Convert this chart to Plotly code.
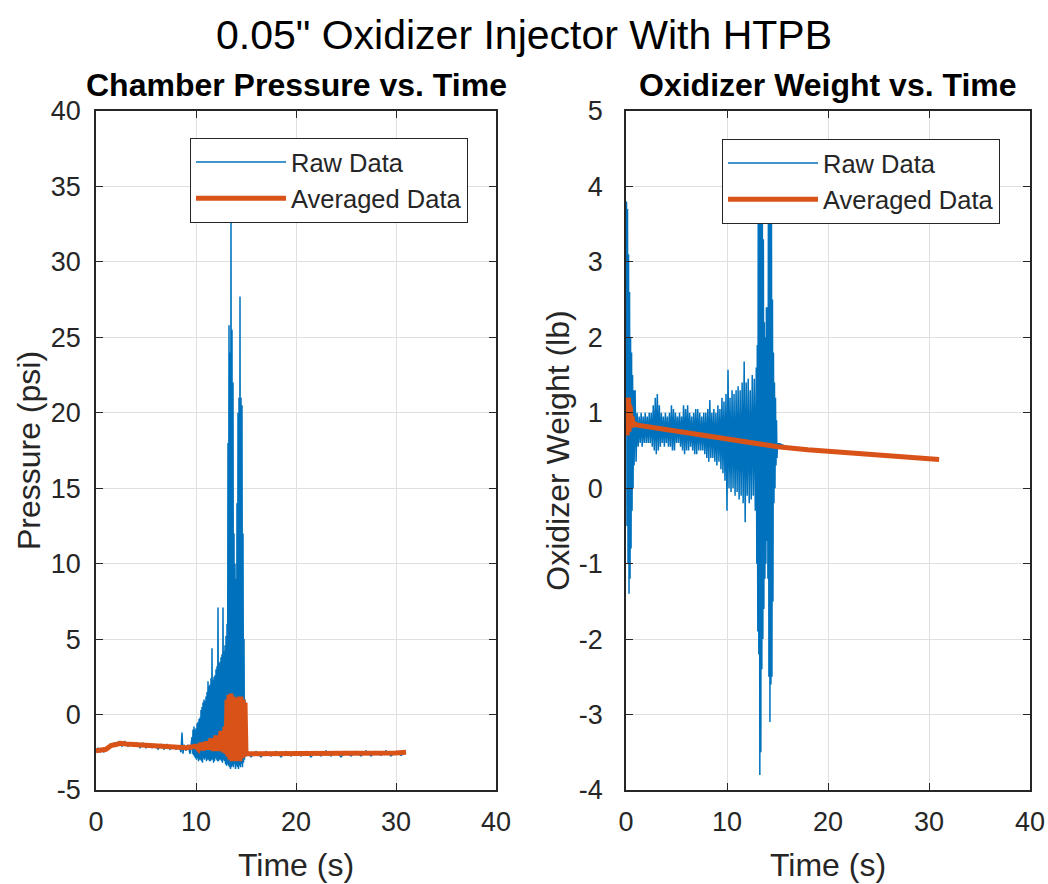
import plotly.graph_objects as go

# ---------------- data ----------------
# Chamber pressure raw data (s, psi)
t_p_raw = [0.0,0.2,0.4,0.6,0.8,1.0,1.2,1.4,1.6,1.8,
           2.0,2.3,2.6,2.9,3.2,3.5,3.8,4.1,4.4,4.7,
           5.0,5.3,5.6,5.9,6.2,6.5,6.8,7.1,7.4,7.7,
           8.0,8.3,8.5,8.6,8.7,8.8,9.0,9.2,9.4,
           9.60,9.65,9.70,9.75,9.80,9.85,9.90,9.95,10.00,10.05,
           10.10,10.15,10.20,10.25,10.30,10.35,10.40,10.45,10.50,10.55,
           10.60,10.65,10.70,10.75,10.80,10.85,10.90,10.95,11.00,11.05,
           11.10,11.15,11.20,11.25,11.30,11.35,11.40,11.45,11.50,11.55,
           11.60,11.65,11.70,11.75,11.80,11.85,11.90,11.95,12.00,12.05,
           12.10,12.15,12.20,12.25,12.30,12.35,12.40,12.45,12.50,12.55,
           12.60,12.65,12.70,12.75,12.80,12.85,12.90,12.95,13.00,13.05,
           13.10,13.15,13.20,13.25,13.30,13.35,13.40,13.45,13.50,13.55,
           13.60,13.65,13.70,13.75,13.80,13.85,13.90,13.95,14.00,14.05,
           14.10,14.15,14.20,14.25,14.30,14.35,14.40,14.45,14.50,14.55,
           14.60,14.65,14.70,14.75,14.80,14.85,14.90,14.95,15.00,
           15.5,16.0,16.5,17.0,17.5,18.0,18.5,19.0,19.5,20.0,
           20.5,21.0,21.5,22.0,22.5,23.0,23.5,24.0,24.5,25.0,
           25.5,26.0,26.5,27.0,27.5,28.0,28.5,29.0,29.5,30.0,
           30.5,31.0]
p_raw = [-2.5,-2.2,-2.5,-2.3,-2.5,-2.2,-2.3,-2.0,-2.1,-1.9,
         -2.1,-1.8,-2.1,-1.8,-2.1,-1.9,-2.1,-1.9,-2.2,-1.9,
         -2.2,-2.0,-2.2,-2.0,-2.3,-2.0,-2.3,-2.0,-2.3,-2.1,
         -2.3,-2.1,-2.5,-1.2,-2.6,-2.0,-2.4,-2.0,-2.6,
         -1.5,-2.6,-1.0,-2.7,-0.8,-2.8,-1.0,-2.9,-0.9,-3.0,
         -0.6,-2.9,-0.5,-3.1,-0.3,-3.0,-0.2,-3.0,0.3,-3.1,
         0.5,-3.2,0.8,-2.9,1.0,-3.0,0.9,-2.9,1.2,-3.1,
         1.5,-3.0,2.2,-3.0,1.9,-3.1,2.0,-3.1,2.4,-3.0,
         4.4,-3.0,2.3,-3.2,2.5,-3.1,2.6,-2.9,3.0,-3.0,
         3.2,-3.1,7.1,-3.1,3.4,-3.0,3.5,-3.0,3.8,-3.1,
         4.0,-3.2,7.1,-3.0,4.2,-3.1,4.6,-3.3,5.2,-3.4,
         6.0,-3.3,18.0,-3.4,25.8,-3.5,24.0,-3.6,33.0,-3.5,
         25.5,-3.4,22.0,-3.5,12.0,-3.3,10.0,-3.6,9.0,-3.4,
         14.0,-3.5,20.0,-3.6,21.0,-3.4,27.7,-3.5,21.0,-3.3,
         20.5,-3.5,12.0,-3.2,5.0,-3.0,1.0,-2.8,-2.4,
         -2.8,-2.45,-2.8,-2.45,-2.75,-2.45,-2.8,-2.45,-2.75,-2.45,
         -2.75,-2.45,-2.8,-2.45,-2.75,-2.4,-2.75,-2.45,-2.8,-2.45,
         -2.75,-2.45,-2.75,-2.4,-2.75,-2.45,-2.7,-2.4,-2.75,-2.45,
         -2.7,-2.5]

# Chamber pressure averaged data (s, psi)
t_p_avg = [0.0,0.5,1.0,1.5,2.0,2.5,3.0,4.0,5.0,6.0,
           7.0,8.0,9.0,9.5,10.0,10.25,10.5,10.75,11.0,11.25,
           11.5,11.75,12.0,12.25,12.5,12.75,12.9,13.0,13.1,13.2,
           13.3,13.4,13.5,13.6,13.7,13.8,13.9,14.0,14.1,14.2,
           14.3,14.4,14.5,14.6,14.7,14.8,14.9,15.0,16.0,18.0,
           20.0,22.0,24.0,26.0,28.0,30.0,31.0]
p_avg = [-2.4,-2.35,-2.3,-2.05,-1.95,-1.9,-1.95,-2.0,-2.05,-2.1,
         -2.15,-2.2,-2.2,-2.15,-2.1,-2.3,-1.9,-2.35,-1.8,-2.3,
         -1.6,-2.4,-1.4,-2.4,-1.1,-2.5,-0.8,-2.6,1.0,-2.8,
         1.3,-3.0,1.4,-3.1,1.2,-3.0,1.0,-3.1,1.1,-3.0,
         1.2,-3.1,1.2,-2.9,1.0,-2.8,0.8,-2.6,-2.6,-2.6,
         -2.6,-2.55,-2.6,-2.55,-2.55,-2.55,-2.5]

# Oxidizer weight raw data (s, lb)
t_w_raw = [0.0,0.05,0.1,0.15,0.2,0.25,0.3,0.35,0.4,0.45,
           0.5,0.55,0.6,0.65,0.7,0.75,0.8,
           0.9,1.0,1.1,1.2,1.3,1.4,1.5,1.6,1.7,1.8,
           1.9,2.0,2.1,2.2,2.3,2.4,2.5,2.6,2.7,2.8,
           2.9,3.0,3.1,3.2,3.3,3.4,3.5,3.6,3.7,3.8,
           3.9,4.0,4.1,4.2,4.3,4.4,4.5,4.6,4.7,4.8,
           4.9,5.0,5.1,5.2,5.3,5.4,5.5,5.6,5.7,5.8,
           5.9,6.0,6.1,6.2,6.3,6.4,6.5,6.6,6.7,6.8,
           6.9,7.0,7.1,7.2,7.3,7.4,7.5,7.6,7.7,7.8,
           7.9,8.0,8.1,8.2,8.3,8.4,8.5,8.6,8.7,8.8,
           8.9,9.0,9.1,9.2,9.3,9.4,9.5,9.6,9.7,9.8,
           9.9,10.0,10.1,10.2,10.3,10.4,10.5,10.6,10.7,10.8,
           10.9,11.0,11.1,11.2,11.3,11.4,11.5,11.6,11.7,11.8,
           11.9,12.0,12.1,12.2,12.3,12.4,12.5,12.6,12.7,12.8,
           12.90,12.95,13.00,13.05,13.10,13.15,13.20,13.25,13.30,13.35,
           13.40,13.45,13.50,13.55,13.60,13.65,13.70,13.75,13.80,13.85,
           13.90,13.95,14.00,14.05,14.10,14.15,14.20,14.25,14.30,14.35,
           14.40,14.45,14.50,14.55,14.60,14.65,14.70,14.75,14.80,14.85,
           14.90,14.95,15.00,
           16.0,17.0,18.0,19.0,20.0,21.0,22.0,23.0,24.0,25.0,
           26.0,27.0,28.0,29.0,30.0,31.0]
w_raw = [0.8,3.8,-0.5,3.7,-1.0,3.1,-1.4,2.6,-1.2,2.0,
         -0.8,1.8,-0.3,1.5,0.0,1.3,0.3,
         1.3,0.35,1.0,0.55,0.95,0.6,1.0,0.55,0.95,0.6,
         1.0,0.6,0.95,0.6,1.0,0.6,1.0,0.55,1.1,0.5,
         1.2,0.45,1.25,0.5,1.1,0.55,1.0,0.6,0.95,0.55,
         1.0,0.6,0.95,0.55,1.0,0.55,1.1,0.5,1.05,0.5,
         1.0,0.6,0.95,0.6,1.0,0.55,0.95,0.5,1.1,0.45,
         1.05,0.5,1.1,0.5,1.0,0.55,0.95,0.5,1.0,0.45,
         1.05,0.45,1.05,0.5,1.0,0.5,0.95,0.5,1.0,0.45,
         1.0,0.4,1.05,0.35,1.17,0.4,1.0,0.4,1.05,0.35,
         1.0,0.3,1.1,0.35,1.05,0.25,1.2,0.2,1.15,0.1,
         1.25,-0.3,1.57,0.0,1.2,-0.05,1.3,0.0,1.25,-0.1,
         1.3,-0.05,1.35,-0.15,1.3,-0.1,1.4,-0.2,1.68,-0.45,
         1.4,-0.1,1.45,-0.2,1.3,-0.15,1.5,-0.1,1.45,-0.3,
         1.6,-1.0,1.9,-1.9,4.4,-2.2,4.5,-3.8,4.5,-3.5,
         4.0,-2.4,3.6,-2.0,3.3,-1.6,2.2,-1.2,2.0,-1.0,
         2.4,-0.7,2.4,-1.2,3.8,-2.5,4.5,-3.1,4.5,-2.6,
         4.0,-2.5,2.5,-1.5,1.8,-0.2,1.4,0.0,1.2,0.3,
         0.9,0.4,0.6,
         0.545,0.52,0.52,0.49,0.50,0.47,0.48,0.45,0.46,0.43,
         0.44,0.41,0.42,0.39,0.40,0.38]

# Oxidizer weight averaged data (s, lb)
t_w_avg = [0.0,0.05,0.1,0.15,0.2,0.25,0.3,0.35,0.4,0.45,
           0.5,0.6,0.7,0.8,1.0,3.0,5.0,7.0,9.0,11.0,
           13.0,15.0,18.0,21.0,24.0,27.0,31.0]
w_avg = [0.9,1.2,0.7,1.15,0.72,1.2,0.75,1.1,0.78,1.05,
         0.8,0.95,0.82,0.86,0.84,0.8,0.76,0.72,0.67,0.63,
         0.59,0.55,0.51,0.48,0.45,0.42,0.38]

x_ticks = [0, 10, 20, 30, 40]
p_ticks = [-5, 0, 5, 10, 15, 20, 25, 30, 35, 40]
w_ticks = [-4, -3, -2, -1, 0, 1, 2, 3, 4, 5]

assert len(t_p_raw) == len(p_raw), (len(t_p_raw), len(p_raw))
assert len(t_p_avg) == len(p_avg), (len(t_p_avg), len(p_avg))
assert len(t_w_raw) == len(w_raw), (len(t_w_raw), len(w_raw))
assert len(t_w_avg) == len(w_avg), (len(t_w_avg), len(w_avg))

# ---------------- styling ----------------
BLUE = "#0072BD"
ORANGE = "#D95319"
AX = "#262626"
GRID = "#dfdfdf"
FONT = "Liberation Sans, Arial, sans-serif"
W, H = 1048, 884

fig = go.Figure()
fig.add_trace(go.Scatter(x=t_p_raw, y=p_raw, mode="lines", name="Raw Data",
                         line=dict(color=BLUE, width=1.5), xaxis="x", yaxis="y",
                         legend="legend"))
fig.add_trace(go.Scatter(x=t_p_avg, y=p_avg, mode="lines", name="Averaged Data",
                         line=dict(color=ORANGE, width=5), xaxis="x", yaxis="y",
                         legend="legend"))
fig.add_trace(go.Scatter(x=t_w_raw, y=w_raw, mode="lines", name="Raw Data",
                         line=dict(color=BLUE, width=1.5), xaxis="x2", yaxis="y2",
                         legend="legend2"))
fig.add_trace(go.Scatter(x=t_w_avg, y=w_avg, mode="lines", name="Averaged Data",
                         line=dict(color=ORANGE, width=5), xaxis="x2", yaxis="y2",
                         legend="legend2"))

def px_x(v):
    return v / W

def px_y(v):
    return 1 - v / H

common = dict(showline=True, linecolor=AX, linewidth=1.5, mirror="ticks",
              ticks="inside", ticklen=7, tickcolor=AX, tickwidth=1.2,
              showgrid=True, gridcolor=GRID, gridwidth=1, zeroline=False,
              automargin=False,
              tickfont=dict(family=FONT, size=27, color=AX))

ydom = [px_y(790), px_y(111)]
title_font = dict(family=FONT, size=32, color=AX)

fig.update_layout(
    template="none",
    width=W, height=H,
    margin=dict(l=0, r=0, t=0, b=0, pad=0),
    paper_bgcolor="white", plot_bgcolor="white",
    font=dict(family=FONT, color=AX),
    title=dict(text='0.05" Oxidizer Injector With HTPB', x=0.5, xanchor="center",
               xref="paper", y=px_y(35), yanchor="middle",
               font=dict(family=FONT, size=41, color="black")),
    xaxis=dict(domain=[px_x(96), px_x(496)], range=[0, 40], anchor="y",
               tickvals=x_ticks, ticktext=[str(v) for v in x_ticks],
               ticklabelstandoff=7,
               title=dict(text="Time (s)", standoff=17, font=title_font),
               **common),
    yaxis=dict(domain=ydom, range=[-5, 40], anchor="x",
               tickvals=p_ticks, ticktext=[str(v) for v in p_ticks],
               ticklabelstandoff=8,
               title=dict(text="Pressure (psi)", standoff=1, font=title_font),
               **common),
    xaxis2=dict(domain=[px_x(626), px_x(1030)], range=[0, 40], anchor="y2",
                tickvals=x_ticks, ticktext=[str(v) for v in x_ticks],
                ticklabelstandoff=7,
                title=dict(text="Time (s)", standoff=17, font=title_font),
                **common),
    yaxis2=dict(domain=ydom, range=[-4, 5], anchor="x2",
                tickvals=w_ticks, ticktext=[str(v) for v in w_ticks],
                ticklabelstandoff=16,
                title=dict(text="Oxidizer Weight (lb)", standoff=0, font=title_font),
                **common),
    legend=dict(x=px_x(468), xanchor="right", y=px_y(138), yanchor="top",
                bgcolor="white", bordercolor=AX, borderwidth=1,
                font=dict(family=FONT, size=25.5, color=AX), itemwidth=90),
    legend2=dict(x=px_x(1000), xanchor="right", y=px_y(139), yanchor="top",
                 bgcolor="white", bordercolor=AX, borderwidth=1,
                 font=dict(family=FONT, size=25.5, color=AX), itemwidth=90),
    annotations=[
        dict(text="<b>Chamber Pressure vs. Time</b>", x=px_x(296), y=px_y(85),
             xref="paper", yref="paper", xanchor="center", yanchor="middle",
             showarrow=False, font=dict(family=FONT, size=32, color="black")),
        dict(text="<b>Oxidizer Weight vs. Time</b>", x=px_x(828), y=px_y(85),
             xref="paper", yref="paper", xanchor="center", yanchor="middle",
             showarrow=False, font=dict(family=FONT, size=32, color="black")),
    ],
)

fig.write_html("out.html")
